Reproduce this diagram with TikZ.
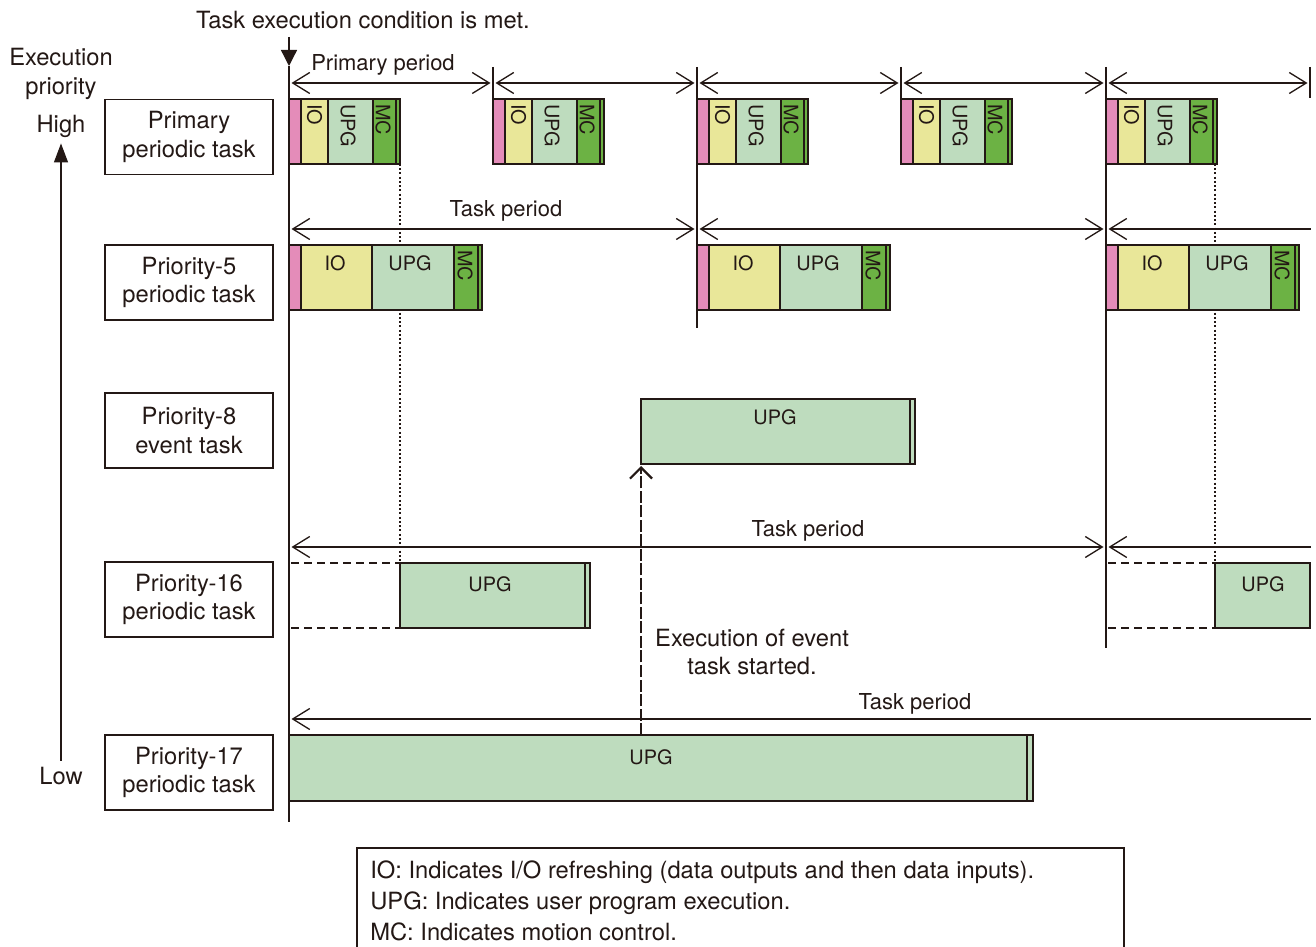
\documentclass[tikz,border=0pt]{standalone}
\usepackage{fontspec}
\setmainfont{TeX Gyre Heros}
\usetikzlibrary{arrows.meta}

\definecolor{inkline}{HTML}{231815}
\definecolor{ovhpink}{HTML}{E48CB9}
\definecolor{ioyellow}{HTML}{E9E799}
\definecolor{upggreen}{HTML}{BEDCBE}
\definecolor{mcgreen}{HTML}{6CB244}

\begin{document}
\begin{tikzpicture}[
  x=0.2mm, y=-0.2mm,
  color=inkline,
  font=\fontsize{13.5}{16}\selectfont,
  >={Straight Barb[length=3.4mm,width=4.2mm]},
  taskbox/.style={draw, line width=0.85pt, minimum width=33.6mm,
    minimum height=15mm, align=center, inner sep=1pt},
  seg/.style={draw, line width=0.75pt},
  segtext/.style={font=\fontsize{11.3}{13}\selectfont, inner sep=0pt},
  vsegtext/.style={segtext, rotate=-90, anchor=west},
  tick/.style={line width=0.75pt},
  period/.style={line width=0.75pt, shorten <=0.5mm, shorten >=0.5mm},
  dotline/.style={line width=0.75pt, dash pattern=on 0.4mm off 0.45mm},
  idleline/.style={line width=0.75pt, dash pattern=on 1.6mm off 1mm},
  evarrow/.style={-{Straight Barb[length=2.2mm,width=4.4mm]}, line width=1.3pt,
    dash pattern=on 2.4mm off 0.5mm},
  note/.style={font=\fontsize{12.5}{15}\selectfont, inner sep=1pt},
  legtext/.style={anchor=base west, inner sep=0pt}
]
\clip (0,0) rectangle (1316,947);

% priority axis
\node[align=center] (execprio) at (61,74) {Execution\\priority};
\node (high) at (61,126) {High};
\node (low) at (61,776) {Low};
\draw[line width=0.75pt, -{Triangle[length=3.8mm,width=2.8mm]}] (low.north) -- (high.south);

% task names
\node[taskbox] (primary) at (189,137) {Primary\\periodic task};
\node[taskbox] (prio5) at (189,282.5) {Priority-5\\periodic task};
\node[taskbox] (prio8) at (189,430.5) {Priority-8\\event task};
\node[taskbox] (prio16) at (189,599.5) {Priority-16\\periodic task};
\node[taskbox] (prio17) at (189,772.5) {Priority-17\\periodic task};

% trigger and time marks
\node (cond) at (363,20) {Task execution condition is met.};
\coordinate (trig) at (289,37);
\coordinate (t0) at (289,66);
\draw[line width=0.75pt, -{Triangle[length=3.2mm,width=3.2mm]}] (trig) -- (t0);
\draw[tick] (t0) -- (289,822);
\foreach \x/\ybot in {493/164, 697/328, 901/164, 1106/648, 1310/98}
  \draw[tick] (\x,67) -- (\x,\ybot);

% primary period
\foreach \i/\x in {0/289,1/493,2/697,3/901,4/1106,5/1310}
  \coordinate (m\i) at (\x,83);
\foreach \i [count=\j] in {0,...,4}
  \draw[period,<->] (m\i) -- (m\j);
\node[note] (primper) at (383,65) {Primary period};

% priority-5 task period
\coordinate (a0) at (289,229);
\coordinate (a1) at (697,229);
\coordinate (a2) at (1106,229);
\coordinate (a3) at (1313,229);
\draw[period,<->] (a0) -- (a1);
\draw[period,<->] (a1) -- (a2);
\draw[period,<-] (a2) -- (a3);
\node[note] (per5) at (506,211) {Task period};

% priority-16 task period
\coordinate (b0) at (289,547);
\coordinate (b1) at (1106,547);
\coordinate (b2) at (1313,547);
\draw[period,<->] (b0) -- (b1);
\draw[period,<-] (b1) -- (b2);
\node[note] (per16) at (808,531) {Task period};

% priority-17 task period
\coordinate (c0) at (289,719);
\coordinate (c1) at (1313,719);
\draw[period,<-] (c0) -- (c1);
\node[note] (per17) at (915,704) {Task period};

% preemption marks
\draw[dotline] (400,164) -- (400,563);
\draw[dotline] (1215,164) -- (1215,563);

% primary periodic task
\foreach \x in {289,493,697,901,1106} {
  \draw[seg, fill=ovhpink] (\x,99) rectangle ++(12,65);
  \draw[seg, fill=ioyellow] (\x+12,99) rectangle ++(27,65);
  \draw[seg, fill=upggreen] (\x+39,99) rectangle ++(45,65);
  \draw[seg, fill=mcgreen] (\x+84,99) rectangle ++(23,65);
  \draw[seg, fill=mcgreen] (\x+107,99) rectangle ++(4,65);
  \node[vsegtext] (pio\x) at (\x+25.5,104) {IO};
  \node[vsegtext] (pupg\x) at (\x+59,104) {UPG};
  \node[vsegtext] (pmc\x) at (\x+94,104) {MC};
}

% priority-5 periodic task
\foreach \x in {289,697,1106} {
  \draw[seg, fill=ovhpink] (\x,245) rectangle ++(12,65);
  \draw[seg, fill=ioyellow] (\x+12,245) rectangle ++(71,65);
  \draw[seg, fill=upggreen] (\x+83,245) rectangle ++(82,65);
  \draw[seg, fill=mcgreen] (\x+165,245) rectangle ++(24,65);
  \draw[seg, fill=mcgreen] (\x+189,245) rectangle ++(4,65);
  \node[segtext] (fio\x) at (\x+46,263) {IO};
  \node[segtext] (fupg\x) at (\x+121,263) {UPG};
  \node[vsegtext] (fmc\x) at (\x+176,250) {MC};
}

% priority-8 event task
\draw[seg, fill=upggreen] (641,399) rectangle (910,464);
\draw[seg, fill=upggreen] (910,399) rectangle (915,464);
\node[segtext] (evupg) at (775,417) {UPG};

% priority-16 periodic task
\draw[idleline] (291,563) -- (400,563);
\draw[idleline] (291,628) -- (400,628);
\draw[idleline] (1108,563) -- (1215,563);
\draw[idleline] (1108,628) -- (1215,628);
\draw[seg, fill=upggreen] (400,563) rectangle (585,628);
\draw[seg, fill=upggreen] (585,563) rectangle (590,628);
\node[segtext] (supg1) at (490,584) {UPG};
\draw[seg, fill=upggreen] (1215,563) rectangle (1310,628);
\node[segtext] (supg2) at (1263,584) {UPG};

% priority-17 periodic task
\draw[seg, fill=upggreen] (289,735) rectangle (1027,801);
\draw[seg, fill=upggreen] (1027,735) rectangle (1033,801);
\node[segtext] (lupg) at (651,757) {UPG};

% event task start
\coordinate (evtrig) at (641,735);
\coordinate (evstart) at (641,466);
\draw[evarrow] (evtrig) -- (evstart);
\node[align=center] (evnote) at (752,652) {Execution of event\\task started.};

% legend
\draw[tick] (357,848) rectangle (1124,960);
\node[legtext] (leg1) at (370,878) {IO: Indicates I/O refreshing (data outputs and then data inputs).};
\node[legtext] (leg2) at (370,909) {UPG: Indicates user program execution.};
\node[legtext] (leg3) at (370,940) {MC: Indicates motion control.};
\end{tikzpicture}
\end{document}
